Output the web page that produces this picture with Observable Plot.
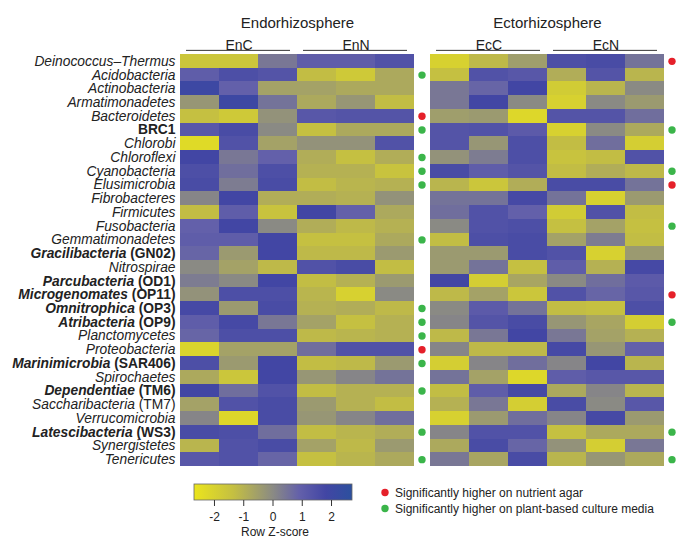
<!DOCTYPE html>
<html><head><meta charset="utf-8">
<script src="https://cdn.jsdelivr.net/npm/d3@7"></script>
<script src="https://cdn.jsdelivr.net/npm/@observablehq/plot@0.6"></script>
<style>
body{margin:0;background:#fff;font-family:"Liberation Sans",Arial,sans-serif;}
#chart svg{display:block;}
</style></head><body><div id="chart"></div>
<script>
const phyla = ["Deinococcus–Thermus","Acidobacteria","Actinobacteria","Armatimonadetes","Bacteroidetes","BRC1","Chlorobi","Chloroflexi","Cyanobacteria","Elusimicrobia","Fibrobacteres","Firmicutes","Fusobacteria","Gemmatimonadetes","Gracilibacteria (GN02)","Nitrospirae","Parcubacteria (OD1)","Microgenomates (OP11)","Omnitrophica (OP3)","Atribacteria (OP9)","Planctomycetes","Proteobacteria","Marinimicrobia (SAR406)","Spirochaetes","Dependentiae (TM6)","Saccharibacteria (TM7)","Verrucomicrobia","Latescibacteria (WS3)","Synergistetes","Tenericutes"];
const boldPhyla = ["BRC1","Gracilibacteria (GN02)","Parcubacteria (OD1)","Microgenomates (OP11)","Omnitrophica (OP3)","Atribacteria (OP9)","Marinimicrobia (SAR406)","Dependentiae (TM6)","Latescibacteria (WS3)"];
const uprightPhyla = ["BRC1"];
const panels = ["Endorhizosphere","Ectorhizosphere"];
const groupNames = [["EnC","EnN"],["EcC","EcN"]];
const replicates = 3;

// Row Z-scores, columns: EnC1..3, EnN1..3
const endoZ = [
[-1.6,-1.6,0.4,1.0,1.0,1.4],
[1.0,1.5,1.3,-1.3,-1.7,-0.8],
[2.0,0.9,-0.6,-0.6,-0.8,-0.8],
[-0.3,2.0,0.5,-0.8,-0.3,-1.3],
[-1.4,-1.7,-0.2,1.2,1.3,1.3],
[1.2,1.6,0,-1.4,-0.8,-0.8],
[-2.3,1.4,-0.6,-0.2,-0.2,1.4],
[1.8,0.4,0.9,-0.9,-1.4,-0.9],
[1.5,0.6,1.5,-1.0,-1.0,-1.5],
[1.6,0.3,1.6,-1.3,-1.1,-1.0],
[0.1,1.8,-0.9,-0.9,-1.0,-0.2],
[-1.3,1.0,-1.5,1.8,0.9,-0.8],
[0.9,1.8,0,-0.9,-1.2,-1.0],
[1.0,1.0,1.8,-1.4,-1.4,-0.8],
[0.8,-0.4,1.8,-1.2,-1.2,-0.4],
[0,-0.6,-1.2,1.4,1.6,-1.3],
[0.3,0,1.8,-1.3,-1.0,-0.4],
[-0.2,1.5,1.5,-1.1,-2.0,0],
[1.7,-0.4,1.6,-1.0,-0.9,-1.2],
[1.0,1.7,0.4,-0.6,-1.4,-1.0],
[0.8,1.5,1.5,-1.2,-1.1,-1.0],
[-2.1,-0.6,-0.6,0.6,1.4,1.4],
[1.5,-0.4,1.8,-1.3,-1.2,-0.4],
[-0.8,-1.6,1.8,-0.3,0.1,0.5],
[1.8,0.6,1.4,-1.3,-1.0,-1.0],
[-0.6,1.4,1.6,-0.4,-1.0,-1.3],
[0.1,-2.2,1.6,-0.3,0.1,0.6],
[1.6,1.5,0.6,-1.3,-1.1,-0.9],
[-1.1,1.4,1.6,-0.6,-1.2,-0.4],
[1.2,1.4,0.8,-1.4,-1.1,-0.8]
];
// Row Z-scores, columns: EcC1..3, EcN1..3
const ectoZ = [
[-2.0,-1.2,-0.5,1.5,1.6,0.5],
[-1.4,1.4,1.2,-0.9,1.3,-1.1],
[0.4,0.8,1.8,-1.8,-1.1,0],
[0.4,1.8,0,-2.0,0,-0.4],
[-0.5,-0.4,-2.2,1.3,1.3,0.6],
[1.3,1.4,1.1,-2.0,0,-0.8],
[1.3,-0.3,1.5,-1.3,0.6,-1.9],
[-0.2,0.3,1.5,-1.5,-1.3,1.4],
[1.6,1.0,1.3,-1.3,-0.9,-1.2],
[-1.1,-1.6,-0.9,1.6,1.6,0.5],
[0.5,0.5,1.7,0.5,-2.0,-0.4],
[0.6,1.4,0.9,-1.8,1.4,-1.3],
[0,1.4,1.5,-1.4,-0.6,-1.4],
[-1.3,1.5,1.6,-0.6,0.3,-1.3],
[-0.4,-0.4,1.6,1.4,-2.0,-0.4],
[-0.4,0.5,-1.4,1.0,-1.0,1.7],
[1.8,-1.9,-0.7,0,0.6,1.1],
[-1.2,-0.6,-1.6,1.4,0.8,1.2],
[0,1.1,0.5,-1.3,-1.4,1.5],
[0.1,1.3,1.6,-0.3,-0.7,-1.9],
[-1.2,0.4,1.8,0.4,-0.6,-1.0],
[0.1,-1.2,-1.2,1.7,-0.3,0.9],
[-1.9,0.1,0.6,0.1,1.8,-1.1],
[0.5,-0.6,-2.2,1.0,1.2,1.2],
[-1.3,1.0,1.7,-0.8,0.1,-1.1],
[-1.0,0.4,-1.9,1.6,0,1.2],
[-2.0,-0.4,0.6,0.1,1.7,-0.4],
[0.1,1.4,1.4,-1.4,-0.8,-0.8],
[-0.8,1.6,0.8,-0.2,-1.9,0.4],
[0.4,-0.7,1.6,-1.1,-0.3,-0.8]
];

const endoNutrientAgar = ["Bacteroidetes","Proteobacteria"];
const endoPlantMedia = ["Acidobacteria","BRC1","Chloroflexi","Cyanobacteria","Elusimicrobia","Gemmatimonadetes","Omnitrophica (OP3)","Atribacteria (OP9)","Planctomycetes","Marinimicrobia (SAR406)","Dependentiae (TM6)","Latescibacteria (WS3)","Tenericutes"];
const ectoNutrientAgar = ["Deinococcus–Thermus","Elusimicrobia","Microgenomates (OP11)"];
const ectoPlantMedia = ["BRC1","Cyanobacteria","Fusobacteria","Atribacteria (OP9)","Latescibacteria (WS3)","Tenericutes"];

const zTicks = [-2,-1,0,1,2];
const zDomain = [-2.7,-1.35,0,0.9,1.8,2.7];
const zColors = ["#ebe51c","#c4bf42","#8a8a84","#6360aa","#4246a4","#2c509e"];
const legendItems = [
  {label: "Significantly higher on nutrient agar", color: "#e5202a"},
  {label: "Significantly higher on plant-based culture media", color: "#3bb54a"}
];

const cells = [];
[endoZ, ectoZ].forEach((m, p) => m.forEach((row, r) => row.forEach((z, c) =>
  cells.push({panel: panels[p], phylum: phyla[r], col: c, z}))));
const groups = panels.flatMap((p, i) => groupNames[i].map((g, j) =>
  ({panel: p, group: g, start: j * replicates, end: (j + 1) * replicates})));
const nCols = replicates * 2;
const sigRed = [
  ...endoNutrientAgar.map(ph => ({panel: panels[0], phylum: ph})),
  ...ectoNutrientAgar.map(ph => ({panel: panels[1], phylum: ph}))
];
const sigGreen = [
  ...endoPlantMedia.map(ph => ({panel: panels[0], phylum: ph})),
  ...ectoPlantMedia.map(ph => ({panel: panels[1], phylum: ph}))
];

const plot = Plot.plot({
  width: 688, height: 474,
  marginLeft: 180, marginRight: 24, marginTop: 54, marginBottom: 8,
  style: {fontFamily: "Liberation Sans, Arial, sans-serif", color: "#222", background: "#fff"},
  fx: {domain: panels, axis: null, paddingInner: 0.064, paddingOuter: 0, round: false},
  x: {domain: [0, nCols], axis: null},
  y: {domain: phyla, axis: null, padding: 0, round: false},
  color: {type: "linear", domain: zDomain, range: zColors, interpolate: "rgb"},
  marks: [
    Plot.barX(cells, {fx: "panel", x1: "col", x2: d => d.col + 1, y: "phylum", fill: "z", shapeRendering: "crispEdges"}),
    Plot.axisY({facetAnchor: "left", tickSize: 0, tickPadding: 5, fontSize: 13.8, label: null, fill: "#222"}),
    Plot.text(panels, {fx: d => d, text: d => d, frameAnchor: "top", dy: -37, fontSize: 15, fill: "#222"}),
    Plot.text(groups, {fx: "panel", x: d => (d.start + d.end) / 2, text: "group", frameAnchor: "top", dy: -14, fontSize: 14, fill: "#222"}),
    Plot.ruleY(groups, {fx: "panel", x1: "start", x2: "end", y: () => phyla[0], dy: -11, insetLeft: 6, insetRight: 7, stroke: "#333", strokeWidth: 1}),
    Plot.dot(sigRed, {fx: "panel", y: "phylum", frameAnchor: "right", dx: 7.5, r: 3.7, fill: legendItems[0].color}),
    Plot.dot(sigGreen, {fx: "panel", y: "phylum", frameAnchor: "right", dx: 7.5, r: 3.7, fill: legendItems[1].color})
  ]
});

// Mixed italic / bold styling of the row labels
const boldSet = new Set(boldPhyla), uprightSet = new Set(uprightPhyla);
d3.select(plot).selectAll('g[aria-label="y-axis tick label"] text').each(function() {
  const label = this.textContent;
  const sel = d3.select(this);
  sel.text(null);
  const bold = boldSet.has(label);
  const m = label.match(/^(.*) (\(.*\))$/);
  if (m) {
    sel.append("tspan").attr("font-style", "italic").attr("font-weight", bold ? "bold" : null).text(m[1]);
    sel.append("tspan").attr("font-weight", bold ? "bold" : null).text(" " + m[2]);
  } else {
    sel.append("tspan").attr("font-style", uprightSet.has(label) ? null : "italic").attr("font-weight", bold ? "bold" : null).text(label);
  }
});
document.getElementById("chart").append(plot);

// Colour-bar and significance legend
const legend = d3.create("svg").attr("width", 688).attr("height", 75)
  .style("display", "block").attr("font-family", "Liberation Sans, Arial, sans-serif").attr("fill", "#222");
const zMin = zDomain[0], zMax = zDomain[zDomain.length - 1];
const zx = d3.scaleLinear().domain([zMin, zMax]).range([194, 352]);
const grad = legend.append("defs").append("linearGradient").attr("id", "zgrad");
zDomain.forEach((v, i) => grad.append("stop").attr("offset", (v - zMin) / (zMax - zMin)).attr("stop-color", zColors[i]));
legend.append("rect").attr("x", zx(zMin)).attr("y", 10).attr("width", zx(zMax) - zx(zMin)).attr("height", 16)
  .attr("fill", "url(#zgrad)").attr("stroke", "#666").attr("stroke-width", 0.8);
const tk = legend.append("g");
zTicks.forEach(t => {
  tk.append("line").attr("x1", zx(t)).attr("x2", zx(t)).attr("y1", 26).attr("y2", 32).attr("stroke", "#333");
  tk.append("text").attr("x", zx(t)).attr("y", 47).attr("text-anchor", "middle").attr("font-size", 12).text(String(t));
});
legend.append("text").attr("x", zx(0) + 2).attr("y", 62).attr("text-anchor", "middle").attr("font-size", 12).text("Row Z-score");
legendItems.forEach((d, i) => {
  legend.append("circle").attr("cx", 385).attr("cy", 18.5 + i * 16).attr("r", 3.7).attr("fill", d.color);
  legend.append("text").attr("x", 395).attr("y", 23 + i * 16).attr("font-size", 12).text(d.label);
});
document.getElementById("chart").append(legend.node());
</script></body></html>
